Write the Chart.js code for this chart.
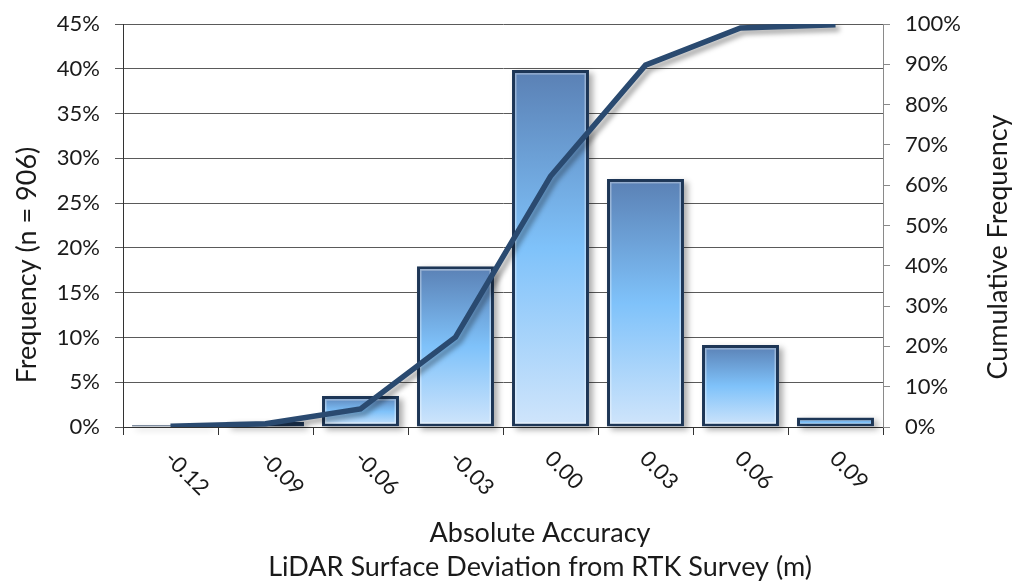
<!DOCTYPE html>
<html>
<head>
<meta charset="utf-8">
<script src="https://cdn.jsdelivr.net/npm/chart.js@4.4.0/dist/chart.umd.min.js"></script>
<style>
  html, body { margin: 0; padding: 0; background: #ffffff; }
  #wrap { width: 1013px; height: 583px; position: relative; }
</style>
</head>
<body>
<div id="wrap"><canvas id="c" width="1013" height="583"></canvas></div>
<script>
// Deviation bins (m) and their share of the 906 survey points
const binLabels = ['-0.12', '-0.09', '-0.06', '-0.03', '0.00', '0.03', '0.06', '0.09'];
const frequencyPct = [0.2, 0.6, 3.45, 17.95, 39.85, 27.7, 9.15, 1.05];
const cumulativePct = [0.2, 0.8, 4.5, 22.3, 62.2, 89.8, 99.0, 99.8];

const leftTitle = 'Frequency (n = 906)';
const rightTitle = 'Cumulative Frequency';
const bottomTitle = ['Absolute Accuracy', 'LiDAR Surface Deviation from RTK Survey (m)'];

const FONT = 'Lato, "Open Sans", sans-serif';
const INK = '#1a1a1a';

// vertical gradient spanning each individual bar
function barGradient(context) {
  const chart = context.chart;
  const ys = chart.scales.y;
  if (!ys || !chart.chartArea) return '#7fb8ee';
  const v = context.raw || 0;
  const top = ys.getPixelForValue(v);
  const bottom = ys.getPixelForValue(0);
  const g = chart.ctx.createLinearGradient(0, top, 0, Math.max(bottom, top + 1));
  g.addColorStop(0, '#5a80b4');
  g.addColorStop(0.5, '#7fc2fa');
  g.addColorStop(1, '#d0e5fb');
  return g;
}

// fixed axis box sizes; edge labels may overhang the plot
function fixWidth(w) {
  return s => { s.width = w; s.paddingTop = 0; s.paddingBottom = 0; };
}

const decor = {
  id: 'decor',
  beforeDatasetDraw(chart, args) {
    const c = chart.ctx;
    if (args.meta.type === 'bar') {
      // soft drop shadow behind the bars
      c.save();
      c.shadowColor = 'rgba(0,0,0,0.32)';
      c.shadowBlur = 6;
      c.shadowOffsetX = 4;
      c.shadowOffsetY = 3;
      c.fillStyle = '#ffffff';
      args.meta.data.forEach(el => {
        const p = el.getProps(['x', 'y', 'base', 'width'], true);
        c.fillRect(p.x - p.width / 2, p.y, p.width, p.base - p.y);
      });
      c.restore();
    }
    c.save();
    if (args.meta.type === 'line') {
      c.shadowColor = 'rgba(0,0,0,0.35)';
      c.shadowBlur = 5;
      c.shadowOffsetX = 4;
      c.shadowOffsetY = 4;
    }
  },
  afterDatasetDraw(chart, args) {
    const c = chart.ctx;
    c.restore();
    if (args.meta.type === 'bar') {
      // light bevel just inside the bar outline
      c.save();
      c.strokeStyle = 'rgba(255,255,255,0.35)';
      c.lineWidth = 1.5;
      args.meta.data.forEach(el => {
        const p = el.getProps(['x', 'y', 'base', 'width'], true);
        const h = p.base - p.y;
        if (h > 10) c.strokeRect(p.x - p.width / 2 + 3.75, p.y + 3.75, p.width - 7.5, h - 7.5);
      });
      c.restore();
    }
  },
  afterDraw(chart) {
    const c = chart.ctx;
    const xs = chart.scales.x;
    c.save();
    c.fillStyle = INK;

    // slanted category labels
    c.font = '22px ' + FONT;
    c.textAlign = 'left';
    c.textBaseline = 'middle';
    binLabels.forEach((t, i) => {
      const x = xs.getPixelForValue(i);
      c.save();
      c.translate(x - 2, xs.top + 28);
      c.rotate(Math.PI / 4);
      c.fillText(t, 0, 0);
      c.restore();
    });

    // axis titles
    c.font = '27px ' + FONT;
    c.textAlign = 'center';
    c.textBaseline = 'middle';
    c.save();
    c.translate(27, 265);
    c.rotate(-Math.PI / 2);
    c.fillText(leftTitle, 0, 0);
    c.restore();

    c.save();
    c.translate(998, 247);
    c.rotate(-Math.PI / 2);
    c.fillText(rightTitle, 0, 0);
    c.restore();

    c.fillText(bottomTitle[0], 540, 533);
    c.fillText(bottomTitle[1], 540, 567);
    c.restore();
  }
};

new Chart(document.getElementById('c'), {
  data: {
    labels: binLabels,
    datasets: [
      {
        type: 'line',
        label: 'Cumulative',
        data: cumulativePct,
        yAxisID: 'y2',
        order: 0,
        borderColor: '#2a4a70',
        borderWidth: 5.5,
        borderJoinStyle: 'miter',
        pointRadius: 0,
        tension: 0,
        fill: false
      },
      {
        type: 'bar',
        label: 'Frequency',
        data: frequencyPct,
        yAxisID: 'y',
        order: 1,
        backgroundColor: barGradient,
        borderColor: '#1d3656',
        borderWidth: 3,
        borderSkipped: false,
        barPercentage: 0.81,
        categoryPercentage: 1.0
      }
    ]
  },
  options: {
    responsive: false,
    animation: false,
    devicePixelRatio: 1,
    layout: { padding: { top: 24, left: 0, right: 0, bottom: 0 } },
    plugins: { legend: { display: false }, tooltip: { enabled: false } },
    scales: {
      x: {
        type: 'category',
        offset: true,
        ticks: { display: false },
        grid: { display: true, drawOnChartArea: false, offset: true, color: '#333333', tickLength: 8 },
        border: { display: true, color: '#333333' },
        afterFit(s) { s.height = 156; s.paddingLeft = 0; s.paddingRight = 0; }
      },
      y: {
        position: 'left',
        min: 0,
        max: 45,
        ticks: {
          stepSize: 5,
          padding: 15,
          color: INK,
          font: { family: FONT, size: 22 },
          callback: v => v + '%'
        },
        grid: { color: '#5a5a5a', tickLength: 8 },
        border: { color: '#333333' },
        afterFit: fixWidth(123)
      },
      y2: {
        position: 'right',
        min: 0,
        max: 100,
        ticks: {
          stepSize: 10,
          padding: 15,
          color: INK,
          font: { family: FONT, size: 22 },
          callback: v => v + '%'
        },
        grid: { drawOnChartArea: false, color: '#8a8a8a', tickLength: 7 },
        border: { color: '#8a8a8a' },
        afterFit: fixWidth(130)
      }
    }
  },
  plugins: [decor]
});
</script>
</body>
</html>
